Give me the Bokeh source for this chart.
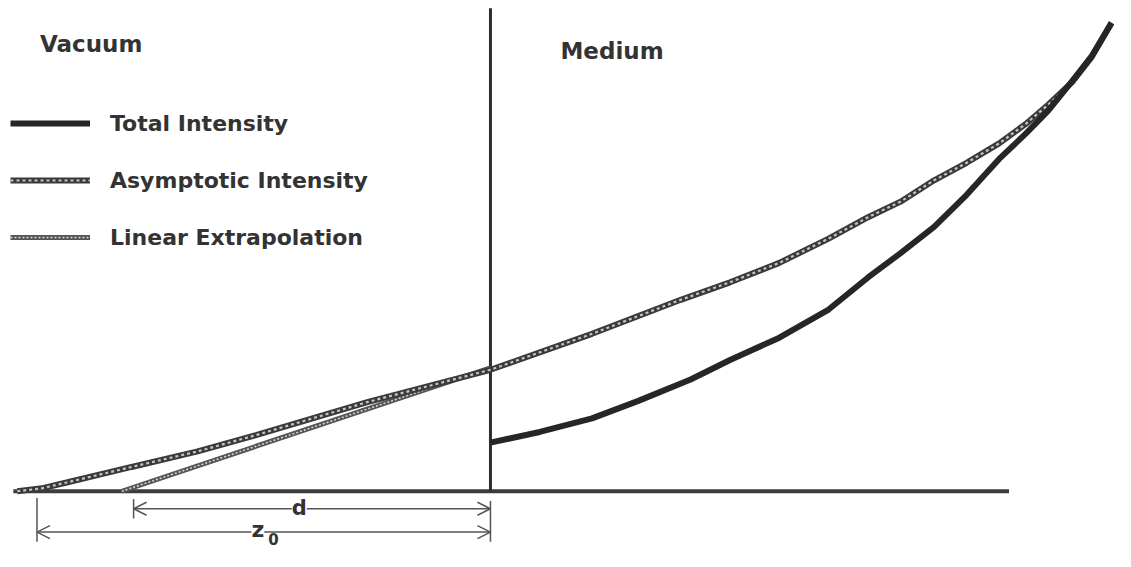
from bokeh.plotting import figure
from bokeh.models import Range1d, Label, Arrow, OpenHead, Legend, LegendItem
from bokeh.embed import file_html
from bokeh.resources import INLINE

# --- data (depth z relative to the interface, intensity I) ---
z_total = [0.0, 0.5, 1.03, 1.5, 2.03, 2.43, 2.93, 3.43, 3.83, 4.16, 4.50, 4.83, 5.16, 5.43, 5.66, 5.90, 6.10, 6.30]
I_total = [0.50, 0.61, 0.75, 0.93, 1.15, 1.35, 1.58, 1.87, 2.20, 2.45, 2.72, 3.05, 3.42, 3.68, 3.92, 4.22, 4.48, 4.82]

z_asym = [-4.80, -4.55, -4.30, -3.64, -2.97, -2.37, -1.24, 0.0, 1.03, 1.93, 2.43, 2.93, 3.43, 3.83, 4.16, 4.50, 4.83, 5.16, 5.43, 5.66, 5.90, 6.10, 6.30]
I_asym = [0.00, 0.03, 0.09, 0.25, 0.41, 0.58, 0.92, 1.25, 1.62, 1.97, 2.15, 2.35, 2.60, 2.82, 2.98, 3.20, 3.38, 3.58, 3.78, 3.98, 4.21, 4.47, 4.82]

z_lin = [-3.74, 0.0]
I_lin = [0.0, 1.27]

base_z = [-4.84, 5.26]
interface_I = [0.0, 4.97]

d_start, z0_start = -3.62, -4.60
d_level, z0_level = -0.18, -0.42

W, H = 1115, 551
p = figure(width=W, height=H, output_backend="svg", toolbar_location=None,
           x_range=Range1d(-4.97, 6.34), y_range=Range1d(-0.62, 5.05),
           min_border=0, outline_line_color=None)
p.axis.visible = False
p.grid.visible = False

dark = "#2e2e2e"
# baseline and interface
p.line(base_z, [0, 0], line_width=4, line_color="#3c3c3c")
p.line([0, 0], interface_I, line_width=3, line_color=dark)

# linear extrapolation
r_lin1 = p.line(z_lin, I_lin, line_width=5, line_color="#555555")
r_lin2 = p.line(z_lin, I_lin, line_width=1.5, line_color="#d8d8d8", line_dash="2 2")
# asymptotic intensity
r_as1 = p.line(z_asym, I_asym, line_width=6, line_color="#3a3a3a")
r_as2 = p.line(z_asym, I_asym, line_width=2.2, line_color="#c4c4c4", line_dash="3 3")
# total intensity
r_tot = p.line(z_total, I_total, line_width=6, line_color="#262626")

# dimension lines
for xs, lvl in ((d_start, d_level), (z0_start, z0_level)):
    p.add_layout(Arrow(x_start=xs, y_start=lvl, x_end=0, y_end=lvl,
                       line_width=1.5, line_color="#555555",
                       start=OpenHead(size=13, line_width=1.5, line_color="#555555"),
                       end=OpenHead(size=13, line_width=1.5, line_color="#555555")))
p.segment(x0=[z0_start, d_start, 0.0], y0=[-0.07, -0.08, -0.10],
          x1=[z0_start, d_start, 0.0], y1=[-0.52, -0.28, -0.52],
          line_width=1.5, line_color="#555555")

font = "DejaVu Sans"
p.add_layout(Label(x=-1.94, y=d_level, text="d", text_font=font, text_font_style="bold",
                   text_font_size="21px", text_color="#333333", text_align="center",
                   text_baseline="middle", background_fill_color="white",
                   y_offset=1))
p.add_layout(Label(x=-2.36, y=z0_level, text="z", text_font=font, text_font_style="bold",
                   text_font_size="22px", text_color="#333333", text_align="center",
                   text_baseline="middle", background_fill_color="white", y_offset=3))
p.add_layout(Label(x=-2.20, y=z0_level, text="0", text_font=font, text_font_style="bold",
                   text_font_size="15px", text_color="#333333", text_align="center",
                   text_baseline="middle", background_fill_color="white", y_offset=-7))

p.add_layout(Label(x=-4.57, y=4.60, text="Vacuum", text_font=font, text_font_style="bold",
                   text_font_size="23px", text_color="#333333", text_baseline="middle"))
p.add_layout(Label(x=0.71, y=4.53, text="Medium", text_font=font, text_font_style="bold",
                   text_font_size="23px", text_color="#333333", text_baseline="middle"))

legend = Legend(items=[
    LegendItem(label="Total Intensity", renderers=[r_tot]),
    LegendItem(label="Asymptotic Intensity", renderers=[r_as1, r_as2]),
    LegendItem(label="Linear Extrapolation", renderers=[r_lin1, r_lin2]),
], location=(10, 301), glyph_width=80, glyph_height=26, label_height=26,
    label_standoff=20, spacing=31, padding=0, margin=0,
    border_line_color=None, background_fill_alpha=0,
    label_text_font=font, label_text_font_style="bold", label_text_font_size="22px",
    label_text_color="#333333")
p.add_layout(legend, "center")

open("out.html", "w").write(file_html(p, INLINE))
